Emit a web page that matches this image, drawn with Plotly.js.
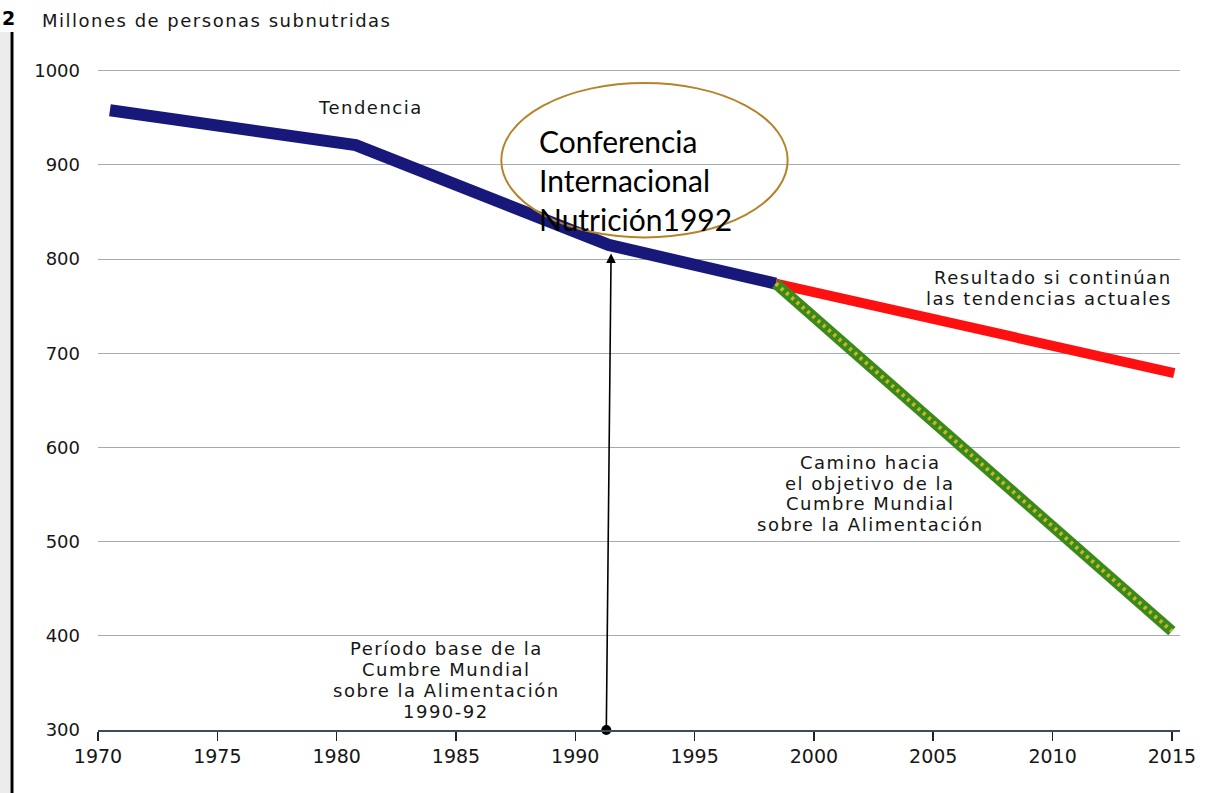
<!DOCTYPE html>
<html>
<head>
<meta charset="utf-8">
<script src="https://cdn.plot.ly/plotly-3.0.1.min.js"></script>
<style>
html,body{margin:0;padding:0;background:#fff;}
#chart{width:1210px;height:793px;}
text.annotation-text{letter-spacing:1.5px;}
text.annotation-text[style*="Lato"]{letter-spacing:0;}
</style>
</head>
<body>
<div id="chart"></div>
<script>
// Data
const trendYears = [1970.5, 1980.8, 1991.4, 1998.4];
const trendValues = [958, 921, 815, 774];
const currentYears = [1998.4, 2015.1];
const currentValues = [774, 679];
const targetYears = [1998.4, 2015];
const targetValues = [774, 405];
const xTickVals = [1970, 1975, 1980, 1985, 1990, 1995, 2000, 2005, 2010, 2015];
const baseYear = 1991.3;

const W = 1210, H = 793;
const M = {l: 98, r: 30, t: 66, b: 63};
const pw = W - M.l - M.r, ph = H - M.t - M.b;
const px2paperX = p => (p - M.l) / pw;
const px2paperY = p => (H - M.b - p) / ph;

const txt = '#161616';
const fontMain = 'DejaVu Sans, sans-serif';

const traces = [
  {x: trendYears, y: trendValues, mode: 'lines', line: {color: '#17187a', width: 12}, hoverinfo: 'skip'},
  {x: currentYears, y: currentValues, mode: 'lines', line: {color: '#ff1010', width: 10}, hoverinfo: 'skip'},
  {x: targetYears, y: targetValues, mode: 'lines', line: {color: '#3a8a1a', width: 11}, hoverinfo: 'skip'},
  {x: targetYears, y: targetValues, mode: 'lines', line: {color: '#c9b52c', width: 4, dash: '3px,4px'}, hoverinfo: 'skip'},
  {x: [baseYear], y: [300], mode: 'markers', marker: {color: '#000', size: 10}, cliponaxis: false, hoverinfo: 'skip'}
];

const ann = (x, y, text, opts) => Object.assign({
  x: px2paperX(x), y: px2paperY(y), xref: 'paper', yref: 'paper', text: text,
  showarrow: false, font: {family: fontMain, size: 18, color: txt}, align: 'center',
  xanchor: 'center', yanchor: 'middle'
}, opts || {});

const lines = (x, ys, texts, opts) => texts.map((t, i) => ann(x, ys[i], t, opts));

const annotations = [
  ann(40, 20, 'Millones de personas subnutridas', {xanchor: 'left'}),
  ann(0, 18, '<b>2</b>', {xanchor: 'left', font: {family: fontMain, size: 19, color: '#000'}}),
  ann(370, 107, 'Tendencia'),
  ann(537, 180, 'Conferencia<br>Internacional<br>Nutrición1992', {xanchor: 'left', align: 'left', font: {family: 'Lato, sans-serif', size: 30, color: '#000'}}),
  ...lines(1174, [277, 298], ['Resultado si continúan', 'las tendencias actuales'], {xanchor: 'right'}),
  ...lines(870, [462, 483, 503, 524], ['Camino hacia', 'el objetivo de la', 'Cumbre Mundial', 'sobre la Alimentación']),
  ...lines(446, [648, 669, 690, 711], ['Período base de la', 'Cumbre Mundial', 'sobre la Alimentación', '1990-92']),
  {x: baseYear + 0.2, y: 806, ax: baseYear, ay: 300, xref: 'x', yref: 'y', axref: 'x', ayref: 'y',
   text: '', showarrow: true, arrowhead: 2, arrowsize: 1.2, arrowwidth: 1.6, arrowcolor: '#000'}
];

const shapes = [
  {type: 'rect', xref: 'paper', yref: 'paper', x0: px2paperX(0), x1: px2paperX(10), y0: px2paperY(793), y1: px2paperY(32),
   fillcolor: '#ececec', line: {width: 0}, layer: 'below'},
  {type: 'line', xref: 'paper', yref: 'paper', x0: px2paperX(12), x1: px2paperX(12), y0: px2paperY(793), y1: px2paperY(32),
   line: {color: '#000', width: 3}},
  {type: 'circle', xref: 'x', yref: 'y', x0: 1986.9, x1: 1998.9, y0: 823, y1: 987,
   line: {color: '#b5832a', width: 2}}
];

const layout = {
  width: W, height: H,
  margin: M,
  paper_bgcolor: '#fff', plot_bgcolor: '#fff',
  showlegend: false,
  xaxis: {
    range: [1970, 2015.34], tickvals: xTickVals, ticks: 'outside', ticklen: 9, tickwidth: 1.5, tickcolor: '#222',
    showgrid: false, zeroline: false, showline: true, linecolor: '#3d4b5c', linewidth: 1.5,
    tickfont: {family: fontMain, size: 19, color: txt}
  },
  yaxis: {
    range: [300, 1005], tickvals: [300, 400, 500, 600, 700, 800, 900, 1000], showgrid: true, gridcolor: '#a3abb6', gridwidth: 1,
    zeroline: false, showline: false, ticks: '', ticklabelstandoff: 17,
    tickfont: {family: fontMain, size: 18, color: txt}
  },
  annotations: annotations,
  shapes: shapes
};

Plotly.newPlot('chart', traces, layout, {displayModeBar: false, staticPlot: true});
</script>
</body>
</html>
